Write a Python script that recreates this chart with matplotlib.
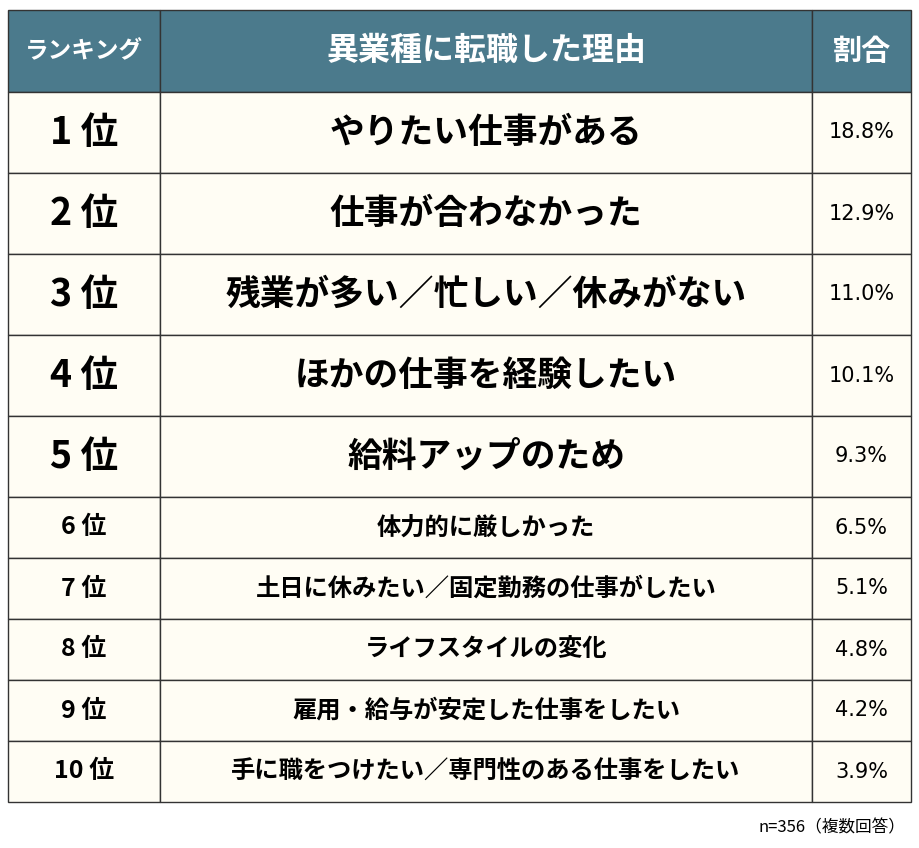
import matplotlib.pyplot as plt
from matplotlib.patches import Rectangle

plt.rcParams['font.family'] = ['Noto Sans CJK JP', 'DejaVu Sans']

headers = ['ランキング', '異業種に転職した理由', '割合']
ranks = ['1 位', '2 位', '3 位', '4 位', '5 位', '6 位', '7 位', '8 位', '9 位', '10 位']
reasons = ['やりたい仕事がある', '仕事が合わなかった', '残業が多い／忙しい／休みがない',
           'ほかの仕事を経験したい', '給料アップのため', '体力的に厳しかった',
           '土日に休みたい／固定勤務の仕事がしたい', 'ライフスタイルの変化',
           '雇用・給与が安定した仕事をしたい', '手に職をつけたい／専門性のある仕事をしたい']
shares = [18.8, 12.9, 11.0, 10.1, 9.3, 6.5, 5.1, 4.8, 4.2, 3.9]

W, H = 919, 848
fig = plt.figure(figsize=(W / 100, H / 100), dpi=100)
ax = fig.add_axes([0, 0, 1, 1])
ax.set_xlim(0, W)
ax.set_ylim(H, 0)
ax.axis('off')

cols = [8, 160, 812, 911]
header_h = 82
row_h = [81] * 5 + [61] * 5
top = 10
head_bg = '#4b7a8c'
body_bg = '#fffdf4'
edge = '#333333'
head_sizes = [17, 23, 21]

# header
for i, txt in enumerate(headers):
    ax.add_patch(Rectangle((cols[i], top), cols[i + 1] - cols[i], header_h,
                           facecolor=head_bg, edgecolor=edge, lw=1))
    ax.text((cols[i] + cols[i + 1]) / 2, top + header_h / 2, txt, color='white',
            fontsize=head_sizes[i], fontweight='bold', ha='center', va='center')

y = top + header_h
for k in range(len(ranks)):
    h = row_h[k]
    big = k < 5
    for i in range(3):
        ax.add_patch(Rectangle((cols[i], y), cols[i + 1] - cols[i], h,
                               facecolor=body_bg, edgecolor=edge, lw=1))
    cy = y + h / 2
    ax.text((cols[0] + cols[1]) / 2, cy, ranks[k], fontsize=27 if big else 18,
            fontweight='bold', ha='center', va='center')
    ax.text((cols[1] + cols[2]) / 2, cy, reasons[k], fontsize=25 if big else 17.5,
            fontweight='bold', ha='center', va='center')
    ax.text((cols[2] + cols[3]) / 2, cy, f'{shares[k]:.1f}%', fontsize=15,
            family='DejaVu Sans', ha='center', va='center')
    y += h

ax.text(905, 828, 'n=356（複数回答）', fontsize=12, ha='right', va='center')

fig.savefig('out.png', dpi=100, facecolor='white')
